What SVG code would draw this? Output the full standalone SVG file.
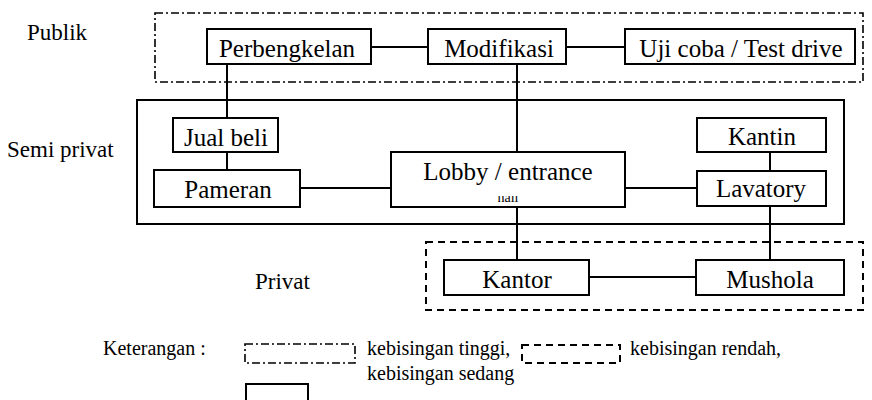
<svg xmlns="http://www.w3.org/2000/svg" width="872" height="400" viewBox="0 0 872 400">
  <style>
    .box { fill: #fff; stroke: #000; stroke-width: 2; }
    .zone-high { fill: none; stroke: #000; stroke-width: 1.6; stroke-dasharray: 8 3 2 3; }
    .zone-mid { fill: none; stroke: #000; stroke-width: 2; }
    .zone-low { fill: none; stroke: #000; stroke-width: 2; stroke-dasharray: 7 5; }
    .link { fill: none; stroke: #000; stroke-width: 2; }
    .lbl { font-family: "Liberation Serif", "Times New Roman", serif; font-size: 25px; fill: #000; text-anchor: middle; }
    .zone { font-family: "Liberation Serif", "Times New Roman", serif; font-size: 23px; fill: #000; }
    .note { font-family: "Liberation Serif", "Times New Roman", serif; font-size: 20px; fill: #000; }
  </style>
  <defs>
    <clipPath id="hallSlice">
      <rect x="391" y="196" width="234" height="6"/>
    </clipPath>
  </defs>

  <rect width="872" height="400" fill="#fff"/>

  <!-- zone outlines -->
  <g id="zones">
    <rect class="zone-high" x="155" y="13" width="708" height="69"/>
    <rect class="zone-mid" x="137" y="100" width="707" height="124"/>
    <rect class="zone-low" x="426" y="242" width="437" height="68"/>
    <text class="zone" x="27" y="40">Publik</text>
    <text class="zone" x="7" y="157">Semi privat</text>
    <text class="zone" x="255" y="289">Privat</text>
  </g>

  <!-- connectors -->
  <g id="connectors">
    <line class="link" x1="371" y1="47" x2="428" y2="47"/>
    <line class="link" x1="566" y1="47" x2="625" y2="47"/>
    <line class="link" x1="227" y1="64" x2="227" y2="118"/>
    <line class="link" x1="227" y1="152" x2="227" y2="170"/>
    <line class="link" x1="517" y1="64" x2="517" y2="152"/>
    <line class="link" x1="300" y1="188" x2="391" y2="188"/>
    <line class="link" x1="625" y1="188" x2="697" y2="188"/>
    <line class="link" x1="770" y1="152" x2="770" y2="171"/>
    <line class="link" x1="517" y1="207" x2="517" y2="260"/>
    <line class="link" x1="770" y1="206" x2="770" y2="260"/>
    <line class="link" x1="589" y1="277" x2="696" y2="277"/>
  </g>

  <!-- public zone -->
  <g id="perbengkelan">
    <rect class="box" x="207" y="29" width="164" height="35"/>
    <text class="lbl" x="287" y="57">Perbengkelan</text>
  </g>
  <g id="modifikasi">
    <rect class="box" x="428" y="29" width="138" height="35"/>
    <text class="lbl" x="499" y="57">Modifikasi</text>
  </g>
  <g id="uji-coba">
    <rect class="box" x="625" y="29" width="230" height="35"/>
    <text class="lbl" x="741" y="57">Uji coba / Test drive</text>
  </g>

  <!-- semi-private zone -->
  <g id="jual-beli">
    <rect class="box" x="173" y="118" width="105" height="34"/>
    <text class="lbl" x="226" y="146">Jual beli</text>
  </g>
  <g id="pameran">
    <rect class="box" x="154" y="170" width="146" height="37"/>
    <text class="lbl" x="228" y="198">Pameran</text>
  </g>
  <g id="lobby">
    <rect class="box" x="391" y="152" width="234" height="55"/>
    <text class="lbl" x="508" y="180">Lobby / entrance</text>
    <!-- second line sits under the box edge; only a thin slice shows -->
    <text class="lbl" x="508" y="202" style="font-size:14px" clip-path="url(#hallSlice)">hall</text>
  </g>
  <g id="kantin">
    <rect class="box" x="697" y="118" width="129" height="34"/>
    <text class="lbl" x="762" y="145">Kantin</text>
  </g>
  <g id="lavatory">
    <rect class="box" x="697" y="171" width="129" height="35"/>
    <text class="lbl" x="761" y="197">Lavatory</text>
  </g>

  <!-- private zone -->
  <g id="kantor">
    <rect class="box" x="444" y="260" width="145" height="35"/>
    <text class="lbl" x="517" y="288">Kantor</text>
  </g>
  <g id="mushola">
    <rect class="box" x="696" y="260" width="148" height="35"/>
    <text class="lbl" x="770" y="288">Mushola</text>
  </g>

  <!-- legend -->
  <g id="legend">
    <text class="note" x="103" y="355">Keterangan :</text>
    <rect class="zone-high" x="245" y="344" width="110" height="19"/>
    <text class="note" x="367" y="355">kebisingan tinggi,</text>
    <rect class="zone-low" x="522" y="345" width="98" height="18"/>
    <text class="note" x="630" y="355">kebisingan rendah,</text>
    <text class="note" x="367" y="380">kebisingan sedang</text>
    <rect class="zone-mid" x="246" y="384" width="62" height="24"/>
  </g>
</svg>
